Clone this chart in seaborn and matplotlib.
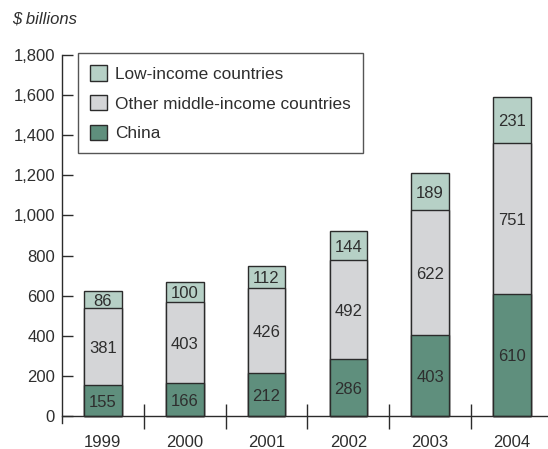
import numpy as np
import pandas as pd
import matplotlib
matplotlib.use("Agg")
import matplotlib.pyplot as plt
import seaborn as sns
from matplotlib.patches import Patch

years = ["1999", "2000", "2001", "2002", "2003", "2004"]
china = [155, 166, 212, 286, 403, 610]
other_middle = [381, 403, 426, 492, 622, 751]
low_income = [86, 100, 112, 144, 189, 231]

series_names = ["Low-income countries", "Other middle-income countries", "China"]
colors = {"China": "#5f8f7d",
          "Other middle-income countries": "#d4d5d7",
          "Low-income countries": "#b6d0c6"}
edge = "#2b2b2b"
text_color = "#2e2e2e"

sns.set_theme(style="white")
plt.rcParams["font.family"] = ["Liberation Sans", "DejaVu Sans"]

df = pd.DataFrame({"year": years, "China": china,
                   "Other middle-income countries": other_middle,
                   "Low-income countries": low_income})
df["mid_top"] = df["China"] + df["Other middle-income countries"]
df["total"] = df["mid_top"] + df["Low-income countries"]

fig = plt.figure(figsize=(5.48, 4.49), dpi=100)
ax = fig.add_axes([62 / 548, (449 - 423) / 449, (548 - 62) / 548, (423 - 55) / 449])

bw = 0.46
# Stacked bars drawn as overlapping cumulative totals, tallest first
for col, name in [("total", "Low-income countries"),
                  ("mid_top", "Other middle-income countries"),
                  ("China", "China")]:
    sns.barplot(data=df, x="year", y=col, color=colors[name], width=bw,
                edgecolor=edge, linewidth=1.0, saturation=1, ax=ax, errorbar=None)

# Segment value labels
for i in range(len(years)):
    c, m, l = china[i], other_middle[i], low_income[i]
    for bottom, val in [(0, c), (c, m), (c + m, l)]:
        ax.annotate(f"{val}", xy=(i, bottom + val / 2), xytext=(0, -1.5),
                    textcoords="offset points", ha="center", va="center",
                    fontsize=12, color=text_color)

ax.set_xlim(-0.5, 5.44)
ax.set_ylim(-35, 1800)
ax.set_xlabel("")
ax.set_ylabel("")

ax.spines["top"].set_visible(False)
ax.spines["right"].set_visible(False)
ax.spines["bottom"].set_position(("data", 0))
for s in ["left", "bottom"]:
    ax.spines[s].set_color(edge)
    ax.spines[s].set_linewidth(1.0)

ax.set_yticks(np.arange(0, 1801, 200))
ax.set_yticklabels([f"{v:,}" for v in range(0, 1801, 200)])
ax.tick_params(axis="y", direction="in", length=8, width=1, color=edge,
               labelsize=12, labelcolor=text_color, pad=5, left=True)

# Year labels under the bars, tick marks between categories
ax.set_xticks(range(len(years)))
ax.set_xticklabels(years)
ax.tick_params(axis="x", which="major", length=0, labelsize=12,
               labelcolor=text_color, pad=14)
ax.set_xticks(np.arange(0.5, len(years) - 0.5, 1), minor=True)
ax.tick_params(axis="x", which="minor", direction="inout", length=18, width=1,
               color=edge, bottom=True)

handles = [Patch(facecolor=colors[n], edgecolor=edge, linewidth=1.0) for n in series_names]
leg = ax.legend(handles, series_names, loc="upper left", bbox_to_anchor=(0.033, 1.005),
                borderaxespad=0, fontsize=12.4, frameon=True, fancybox=False,
                handlelength=1.0, handleheight=1.0, handletextpad=0.45,
                labelspacing=0.76, borderpad=0.7)
leg.get_frame().set_edgecolor(edge)
leg.get_frame().set_linewidth(1.0)
for t in leg.get_texts():
    t.set_color(text_color)

fig.text(12 / 548, 1 - 19 / 449, "$ billions", fontsize=12, style="italic",
         color=text_color, ha="left", va="center")

fig.savefig("out.png", dpi=100)
